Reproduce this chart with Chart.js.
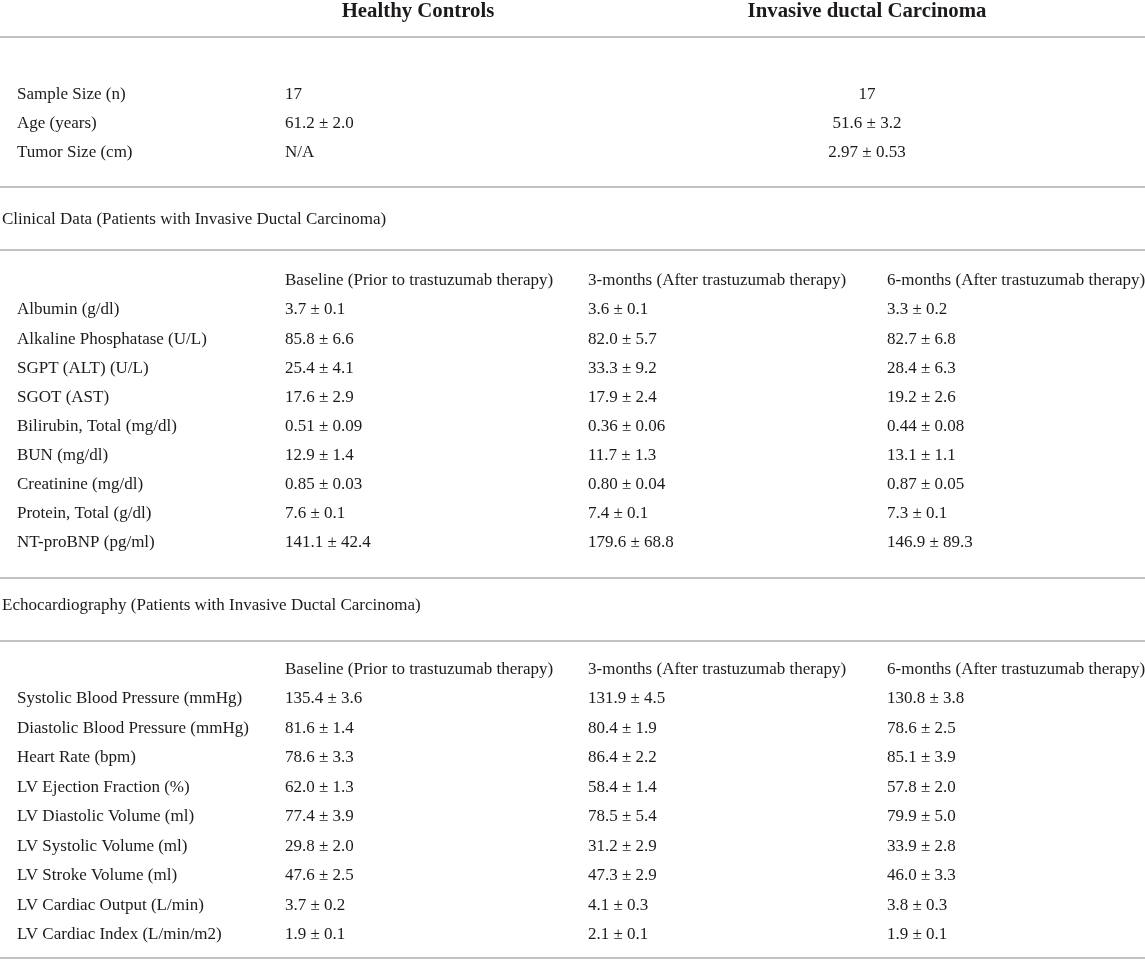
<!DOCTYPE html>
<html>
<head>
<meta charset="utf-8">
<script src="https://cdn.jsdelivr.net/npm/chart.js@4.4.1/dist/chart.umd.min.js"></script>
<style>
  html, body { margin: 0; padding: 0; background: #ffffff; }
  #wrap { width: 1145px; height: 960px; position: relative; }
</style>
</head>
<body>
<div id="wrap"><canvas id="c"></canvas></div>
<script>
// ---------------- DATA ----------------
const groupHeaders = ["Healthy Controls", "Invasive ductal Carcinoma"];
const demoLabels = ["Sample Size (n)", "Age (years)", "Tumor Size (cm)"];
const healthyValues = ["17", "61.2 ± 2.0", "N/A"];
const idcValues = ["17", "51.6 ± 3.2", "2.97 ± 0.53"];

const sectionTitles = [
  "Clinical Data (Patients with Invasive Ductal Carcinoma)",
  "Echocardiography (Patients with Invasive Ductal Carcinoma)"
];
const timepoints = [
  "Baseline (Prior to trastuzumab therapy)",
  "3-months (After trastuzumab therapy)",
  "6-months (After trastuzumab therapy)"
];

const clinicalLabels = [
  "Albumin (g/dl)", "Alkaline Phosphatase (U/L)", "SGPT (ALT) (U/L)", "SGOT (AST)",
  "Bilirubin, Total (mg/dl)", "BUN (mg/dl)", "Creatinine (mg/dl)", "Protein, Total (g/dl)",
  "NT-proBNP (pg/ml)"
];
const clinicalBaseline = ["3.7 ± 0.1", "85.8 ± 6.6", "25.4 ± 4.1", "17.6 ± 2.9", "0.51 ± 0.09",
  "12.9 ± 1.4", "0.85 ± 0.03", "7.6 ± 0.1", "141.1 ± 42.4"];
const clinical3m = ["3.6 ± 0.1", "82.0 ± 5.7", "33.3 ± 9.2", "17.9 ± 2.4", "0.36 ± 0.06",
  "11.7 ± 1.3", "0.80 ± 0.04", "7.4 ± 0.1", "179.6 ± 68.8"];
const clinical6m = ["3.3 ± 0.2", "82.7 ± 6.8", "28.4 ± 6.3", "19.2 ± 2.6", "0.44 ± 0.08",
  "13.1 ± 1.1", "0.87 ± 0.05", "7.3 ± 0.1", "146.9 ± 89.3"];

const echoLabels = [
  "Systolic Blood Pressure (mmHg)", "Diastolic Blood Pressure (mmHg)", "Heart Rate (bpm)",
  "LV Ejection Fraction (%)", "LV Diastolic Volume (ml)", "LV Systolic Volume (ml)",
  "LV Stroke Volume (ml)", "LV Cardiac Output (L/min)", "LV Cardiac Index (L/min/m2)"
];
const echoBaseline = ["135.4 ± 3.6", "81.6 ± 1.4", "78.6 ± 3.3", "62.0 ± 1.3", "77.4 ± 3.9",
  "29.8 ± 2.0", "47.6 ± 2.5", "3.7 ± 0.2", "1.9 ± 0.1"];
const echo3m = ["131.9 ± 4.5", "80.4 ± 1.9", "86.4 ± 2.2", "58.4 ± 1.4", "78.5 ± 5.4",
  "31.2 ± 2.9", "47.3 ± 2.9", "4.1 ± 0.3", "2.1 ± 0.1"];
const echo6m = ["130.8 ± 3.8", "78.6 ± 2.5", "85.1 ± 3.9", "57.8 ± 2.0", "79.9 ± 5.0",
  "33.9 ± 2.8", "46.0 ± 3.3", "3.8 ± 0.3", "1.9 ± 0.1"];

// ---------------- LAYOUT (scale units) ----------------
const FONT_FAMILY = '"Liberation Serif", "Times New Roman", serif';
const BODY_FONT = '17px ' + FONT_FAMILY;
const BOLD_FONT = 'bold 20.8px ' + FONT_FAMILY;
const TEXT_COLOR = '#1e1a1b';
const RULE_COLOR = '#c2c2c2';

const colX = { title: 2, label: 17, c1: 285, c2: 588, c3: 887, hcCenter: 418, idcCenter: 867 };
const rowY = {
  groupHeader: 12,
  demoStart: 95, demoStep: 29,
  clinTitle: 220, clinHeader: 281, clinStart: 310, clinStep: 29.05,
  echoTitle: 606, echoHeader: 670, echoStart: 699, echoStep: 29.5
};
const ruleRows = [37, 187, 250, 578, 641, 958];

// ---------------- BUILD DATASETS ----------------
function cells(texts, x, y0, step) {
  return texts.map((t, i) => ({ x: x, y: y0 + i * step, text: t }));
}
function ds(data, font, align) {
  return { data: data, font: font, align: align, pointRadius: 0, pointHoverRadius: 0, showLine: false };
}

const datasets = [
  ds([{ x: colX.hcCenter, y: rowY.groupHeader, text: groupHeaders[0] },
      { x: colX.idcCenter, y: rowY.groupHeader, text: groupHeaders[1] }], BOLD_FONT, 'center'),
  ds(cells(demoLabels, colX.label, rowY.demoStart, rowY.demoStep), BODY_FONT, 'left'),
  ds(cells(healthyValues, colX.c1, rowY.demoStart, rowY.demoStep), BODY_FONT, 'left'),
  ds(cells(idcValues, colX.idcCenter, rowY.demoStart, rowY.demoStep), BODY_FONT, 'center'),
  ds([{ x: colX.title, y: rowY.clinTitle, text: sectionTitles[0] },
      { x: colX.title, y: rowY.echoTitle, text: sectionTitles[1] }], BODY_FONT, 'left'),
  ds([colX.c1, colX.c2, colX.c3].map((x, i) => ({ x: x, y: rowY.clinHeader, text: timepoints[i] }))
    .concat([colX.c1, colX.c2, colX.c3].map((x, i) => ({ x: x, y: rowY.echoHeader, text: timepoints[i] }))),
    BODY_FONT, 'left'),
  ds(cells(clinicalLabels, colX.label, rowY.clinStart, rowY.clinStep), BODY_FONT, 'left'),
  ds(cells(clinicalBaseline, colX.c1, rowY.clinStart, rowY.clinStep), BODY_FONT, 'left'),
  ds(cells(clinical3m, colX.c2, rowY.clinStart, rowY.clinStep), BODY_FONT, 'left'),
  ds(cells(clinical6m, colX.c3, rowY.clinStart, rowY.clinStep), BODY_FONT, 'left'),
  ds(cells(echoLabels, colX.label, rowY.echoStart, rowY.echoStep), BODY_FONT, 'left'),
  ds(cells(echoBaseline, colX.c1, rowY.echoStart, rowY.echoStep), BODY_FONT, 'left'),
  ds(cells(echo3m, colX.c2, rowY.echoStart, rowY.echoStep), BODY_FONT, 'left'),
  ds(cells(echo6m, colX.c3, rowY.echoStart, rowY.echoStep), BODY_FONT, 'left')
];

// ---------------- PLUGIN: rules + cell text ----------------
const tablePlugin = {
  id: 'tablePlugin',
  beforeDatasetsDraw(chart) {
    const ctx = chart.ctx, xs = chart.scales.x, ys = chart.scales.y;
    ctx.save();
    ctx.strokeStyle = RULE_COLOR;
    ctx.lineWidth = 2;
    ruleRows.forEach(r => {
      const py = Math.round(ys.getPixelForValue(r));
      ctx.beginPath();
      ctx.moveTo(xs.getPixelForValue(0), py);
      ctx.lineTo(xs.getPixelForValue(1145), py);
      ctx.stroke();
    });
    ctx.restore();
  },
  afterDatasetsDraw(chart) {
    const ctx = chart.ctx;
    ctx.save();
    ctx.fillStyle = TEXT_COLOR;
    ctx.textBaseline = 'middle';
    chart.data.datasets.forEach((d, i) => {
      const meta = chart.getDatasetMeta(i);
      ctx.font = d.font;
      ctx.textAlign = d.align;
      meta.data.forEach((el, j) => {
        ctx.fillText(d.data[j].text, el.x, el.y);
      });
    });
    ctx.restore();
  }
};

new Chart(document.getElementById('c'), {
  type: 'scatter',
  data: { datasets: datasets },
  options: {
    responsive: true,
    maintainAspectRatio: false,
    animation: false,
    events: [],
    layout: { padding: 0 },
    scales: {
      x: { type: 'linear', min: 0, max: 1145, display: false },
      y: { type: 'linear', min: 0, max: 960, reverse: true, display: false }
    },
    plugins: { legend: { display: false }, tooltip: { enabled: false } }
  },
  plugins: [tablePlugin]
});
</script>
</body>
</html>
